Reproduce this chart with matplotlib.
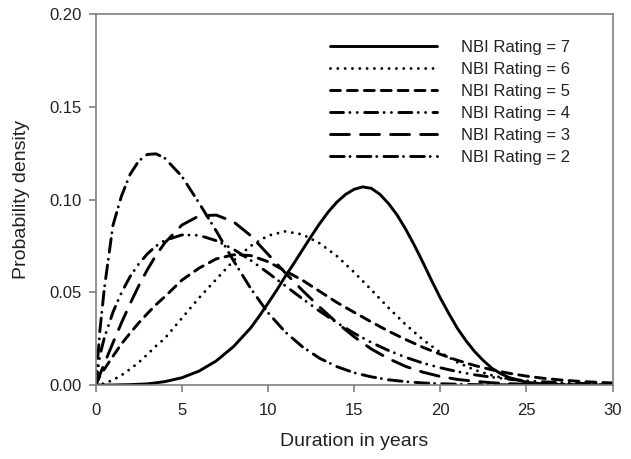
import matplotlib
matplotlib.use("Agg")
import matplotlib.pyplot as plt

plt.rcParams['font.family'] = ['Liberation Sans', 'DejaVu Sans']

years = [0, 0.25, 0.5, 1, 1.5, 2, 2.5, 3, 3.5, 4,
         5, 6, 7, 8, 9, 10, 11, 12, 13, 14, 15, 16, 17, 18, 19, 20,
         21, 22, 23, 24, 25, 26, 27, 28, 29, 30]

years7 = [0, 1, 2, 3, 4, 5, 6, 7, 8, 9, 9.5, 10, 10.5, 11, 11.5, 12, 12.5,
          13, 13.5, 14, 14.5, 15, 15.5, 16, 16.5, 17, 17.5, 18, 18.5, 19, 19.5,
          20, 20.5, 21, 21.5, 22, 22.5, 23, 23.5, 24, 25, 26, 27, 28, 30]
rating7 = [0, 0, 0.0002, 0.0006, 0.0018, 0.0039, 0.0075, 0.0130, 0.0207, 0.0308,
           0.0372, 0.0440, 0.0510, 0.0585, 0.0655, 0.0728, 0.0800, 0.0870, 0.0933,
           0.0986, 0.1027, 0.1055, 0.1068, 0.1060, 0.1028, 0.0978, 0.0916, 0.0839,
           0.0753, 0.0660, 0.0563, 0.0470, 0.0385, 0.0305, 0.0238, 0.0180, 0.0132,
           0.0090, 0.0062, 0.0040, 0.0015, 0.0005, 0.0001, 0, 0]
rating6 = [0, 0.0003, 0.0008, 0.0027, 0.0053, 0.0086, 0.0122, 0.0165, 0.0210, 0.0250,
           0.0360, 0.0470, 0.0570, 0.0670, 0.0750, 0.0805, 0.0828, 0.0812, 0.0764, 0.0695,
           0.0608, 0.0513, 0.0416, 0.0325, 0.0244, 0.0176, 0.0122, 0.0081, 0.0052, 0.0031,
           0.0018, 0.0010, 0.0005, 0.0003, 0.0001, 0]
rating5 = [0, 0.0050, 0.0085, 0.0155, 0.0222, 0.0280, 0.0335, 0.0385, 0.0433, 0.0475,
           0.0565, 0.0630, 0.0680, 0.0702, 0.0698, 0.0665, 0.0615, 0.0565, 0.0505, 0.0445,
           0.0392, 0.0340, 0.0290, 0.0245, 0.0203, 0.0166, 0.0133, 0.0105, 0.0082, 0.0063,
           0.0048, 0.0036, 0.0027, 0.0020, 0.0015, 0.0011]
rating4 = [0, 0.0163, 0.0254, 0.0392, 0.0499, 0.0585, 0.0653, 0.0707, 0.0749, 0.0779,
           0.0809, 0.0807, 0.0778, 0.0732, 0.0672, 0.0605, 0.0535, 0.0465, 0.0398, 0.0336,
           0.0279, 0.0229, 0.0186, 0.0149, 0.0118, 0.0093, 0.0072, 0.0055, 0.0042, 0.0031,
           0.0023, 0.0017, 0.0013, 0.0009, 0.0007, 0.0005]
rating3 = [0, 0.0058, 0.0115, 0.0227, 0.0336, 0.0439, 0.0535, 0.0622, 0.0699, 0.0765,
           0.0862, 0.0912, 0.0916, 0.0880, 0.0805, 0.0705, 0.0605, 0.0510, 0.0420, 0.0336,
           0.0260, 0.0194, 0.0142, 0.0100, 0.0069, 0.0046, 0.0030, 0.0020, 0.0012, 0.0007,
           0.0004, 0.0002, 0.0001, 0, 0, 0]
rating2 = [0, 0.0300, 0.0520, 0.0860, 0.1020, 0.1136, 0.1208, 0.1243, 0.1246, 0.1224,
           0.1125, 0.0981, 0.0830, 0.0670, 0.0520, 0.0390, 0.0286, 0.0206, 0.0144, 0.0099,
           0.0066, 0.0044, 0.0028, 0.0018, 0.0011, 0.0007, 0.0004, 0.0002, 0.0001, 0.0001,
           0, 0, 0, 0, 0, 0]

labels = ["NBI Rating = 7", "NBI Rating = 6", "NBI Rating = 5",
          "NBI Rating = 4", "NBI Rating = 3", "NBI Rating = 2"]
xs = [years7, years, years, years, years, years]
series = [rating7, rating6, rating5, rating4, rating3, rating2]

# dash patterns (in units of line width), with round caps
styles = [
    None,
    (0, (0.01, 2.5)),
    (0, (3.4, 2.4)),
    (0, (4.45, 2.2, 0.01, 2.5, 0.01, 2.55)),
    (0, (6.5, 3.8)),
    (0, (4.7, 2.0, 0.01, 2.45)),
]

fig = plt.figure(figsize=(6.31, 4.59), dpi=100)
ax = fig.add_axes([95.7 / 631, (459 - 385) / 459, (612.5 - 95.7) / 631, (385 - 14) / 459])

lw = 2.1
for x, vals, lab, st in zip(xs, series, labels, styles):
    if st is None:
        ax.plot(x, vals, color='black', lw=lw, solid_capstyle='round',
                solid_joinstyle='round', label=lab)
    else:
        ax.plot(x, vals, color='black', lw=lw, linestyle=st,
                dash_capstyle='round', dash_joinstyle='round', label=lab)

ax.set_xlim(0, 30)
ax.set_ylim(0, 0.20)
ax.set_xticks([0, 5, 10, 15, 20, 25, 30])
ax.set_yticks([0, 0.05, 0.10, 0.15, 0.20])
ax.set_yticklabels(["0.00", "0.05", "0.10", "0.15", "0.20"])

spine_c = '#7f7f7f'
for s in ax.spines.values():
    s.set_color(spine_c)
    s.set_linewidth(1.2)
ax.tick_params(direction='out', length=5, width=1.2, color=spine_c,
               labelsize=12, labelcolor='#222222')
ax.tick_params(axis='x', pad=8)
ax.tick_params(axis='y', pad=5)

ax.set_xlabel("Duration in years", fontsize=14, color='#222222', labelpad=11)
ax.set_ylabel("Probability density", fontsize=14, color='#222222', labelpad=14)

leg = ax.legend(loc='center left', bbox_to_anchor=(0.4534, 0.762), frameon=False,
                fontsize=12, handlelength=6.4, handletextpad=1.47,
                labelspacing=0.42, borderpad=0, borderaxespad=0)
for t in leg.get_texts():
    t.set_color('#222222')

fig.savefig("out.png", dpi=100)
